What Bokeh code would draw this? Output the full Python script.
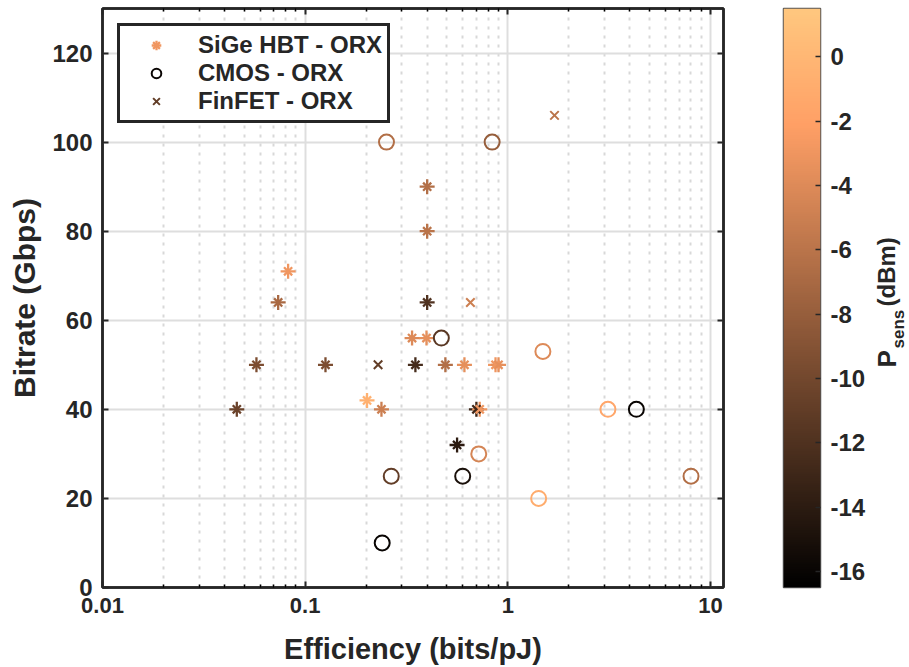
import math
import numpy as np
from bokeh.plotting import figure
from bokeh.models import (ColumnDataSource, LinearColorMapper, FixedTicker, LinearAxis, LogAxis,
                          Legend, LegendItem, CustomJSTickFormatter)
from bokeh.core.properties import value
from bokeh.transform import transform
from bokeh.layouts import row
from bokeh.embed import file_html
from bokeh.resources import INLINE

# ---------------- data ----------------
sige_eff   = [0.0824, 0.046, 0.0575, 0.0736, 0.126, 0.202, 0.238, 0.35, 0.40, 0.337, 0.397,
              0.40, 0.40, 0.492, 0.611, 0.87, 0.90, 0.562, 0.70, 0.727]
sige_rate  = [71, 40, 50, 64, 50, 42, 40, 50, 64, 56, 56, 90, 80, 50, 50, 50, 50, 32, 40, 40]
sige_psens = [-3, -10.5, -9.5, -7, -9.5, -0.5, -5, -12.5, -12, -4, -3.5, -6.5, -6, -6.5,
              -3.5, -3, -3.5, -14, -13, -3]

cmos_eff   = [0.240, 0.252, 0.837, 0.470, 1.49, 3.12, 4.31, 0.719, 0.266, 0.599, 8.02, 1.42]
cmos_rate  = [10, 100, 100, 56, 53, 40, 40, 30, 25, 25, 25, 20]
cmos_psens = [-16, -6.5, -8, -11.5, -4, -1.5, -16, -4.5, -11, -15, -6.5, -1]

finfet_eff   = [0.229, 1.70, 0.654]
finfet_rate  = [50, 106, 64]
finfet_psens = [-11, -6, -5]

x_ticks = [0.01, 0.1, 1, 10]
x_minor = [m * 10.0 ** e for e in (-2, -1, 0) for m in range(2, 10)]
y_ticks = [0, 20, 40, 60, 80, 100, 120]
cbar_ticks = [0, -2, -4, -6, -8, -10, -12, -14, -16]
cbar_low, cbar_high = -16.5, 1.5

series_labels = ["SiGe HBT - ORX", "CMOS - ORX", "FinFET - ORX"]
cbar_title = ["P", "sens", "(dBm)"]

# ---------------- styling ----------------
INK = "#262626"
FONT = "Liberation Sans"

# MATLAB "copper" colormap
_t = np.linspace(0, 1, 256)
palette = ["#%02x%02x%02x" % (int(round(255 * min(1.0, 1.25 * t))),
                               int(round(255 * 0.7812 * t)),
                               int(round(255 * 0.4975 * t))) for t in _t]
mapper = LinearColorMapper(palette=palette, low=cbar_low, high=cbar_high)

p = figure(width=770, height=667, x_axis_type="log", x_range=(0.01, 11.6), y_range=(0, 130),
           output_backend="svg", toolbar_location=None,
           min_border_left=102, min_border_right=47, min_border_top=8, min_border_bottom=80)
p.outline_line_color = INK
p.outline_line_width = 2.5
p.background_fill_color = "white"

bottom_ax = p.xaxis[0]
left_ax = p.yaxis[0]
top_ax = LogAxis()
right_ax = LinearAxis()
p.add_layout(top_ax, "above")
p.add_layout(right_ax, "right")

xt = FixedTicker(ticks=x_ticks, minor_ticks=x_minor)
yt = FixedTicker(ticks=y_ticks)
fmt = CustomJSTickFormatter(code="return tick.toString();")
blank = CustomJSTickFormatter(code="return '';")

for ax in [bottom_ax, top_ax]:
    ax.ticker = xt
for ax in [left_ax, right_ax]:
    ax.ticker = yt
    ax.minor_tick_line_color = None
bottom_ax.formatter = fmt
left_ax.formatter = fmt
top_ax.formatter = blank
right_ax.formatter = blank

for ax in [bottom_ax, top_ax, left_ax, right_ax]:
    ax.axis_line_color = INK
    ax.axis_line_width = 2.5
    ax.major_tick_in = 6
    ax.major_tick_out = 0
    ax.minor_tick_in = 3
    ax.minor_tick_out = 0
    ax.major_tick_line_color = INK
    ax.major_tick_line_width = 2
    ax.minor_tick_line_width = 1.5
    ax.major_label_text_font = FONT
    ax.major_label_text_font_style = "bold"
    ax.major_label_text_font_size = "24px"
    ax.major_label_text_color = INK
    ax.axis_label_text_font = FONT
    ax.axis_label_text_font_style = "bold"
    ax.axis_label_text_color = INK

bottom_ax.major_label_text_font_size = "22px"
bottom_ax.axis_label_text_font_size = "29px"
left_ax.axis_label_text_font_size = "30px"
top_ax.major_label_standoff = 0
right_ax.major_label_standoff = 0

bottom_ax.axis_label = "Efficiency (bits/pJ)"
left_ax.axis_label = "Bitrate (Gbps)"
bottom_ax.major_label_standoff = 10
left_ax.major_label_standoff = 10
bottom_ax.axis_label_standoff = 17
left_ax.axis_label_standoff = 8

p.xgrid.grid_line_color = "#dedede"
p.xgrid.grid_line_width = 2
p.ygrid.grid_line_color = "#dedede"
p.ygrid.grid_line_width = 2
p.xgrid.minor_grid_line_color = "#d8d8d8"
p.xgrid.minor_grid_line_width = 2
p.xgrid.minor_grid_line_dash = "3 6"

src_s = ColumnDataSource(dict(x=sige_eff, y=sige_rate, c=sige_psens))
src_c = ColumnDataSource(dict(x=cmos_eff, y=cmos_rate, c=cmos_psens))
src_f = ColumnDataSource(dict(x=finfet_eff, y=finfet_rate, c=finfet_psens))
col = transform("c", mapper)

r_s1 = p.scatter("x", "y", source=src_s, marker="cross", size=15, line_width=2.3,
                 line_color=col, fill_color=None)
r_s2 = p.scatter("x", "y", source=src_s, marker="x", size=11.5, line_width=2.3,
                 line_color=col, fill_color=None)
r_c = p.scatter("x", "y", source=src_c, marker="circle", size=15, line_width=2,
                line_color=col, fill_color=None)
r_f = p.scatter("x", "y", source=src_f, marker="x", size=12, line_width=2,
                line_color=col, fill_color=None)

legend = Legend(items=[
    LegendItem(label=series_labels[0], renderers=[r_s1, r_s2], index=0),
    LegendItem(label=series_labels[1], renderers=[r_c], index=0),
    LegendItem(label=series_labels[2], renderers=[r_f], index=0),
], location="top_left")
legend.margin = 15
legend.padding = 5
legend.spacing = 0
legend.label_height = 24
legend.glyph_height = 24
legend.glyph_width = 62
legend.label_standoff = 11
legend.border_line_color = INK
legend.border_line_alpha = 1
legend.border_line_width = 3
legend.background_fill_color = "white"
legend.background_fill_alpha = 1
legend.label_text_font = FONT
legend.label_text_font_style = "bold"
legend.label_text_font_size = "24px"
legend.label_text_color = INK
legend.label_text_baseline = "middle"
p.add_layout(legend)

# ---------------- colour bar ----------------
p2 = figure(width=98, height=667, x_range=(0, 1), y_range=(cbar_low, cbar_high),
            output_backend="svg", toolbar_location=None, y_axis_location="right",
            min_border_left=13, min_border_right=46, min_border_top=8, min_border_bottom=80)
p2.image(image=[np.linspace(cbar_low, cbar_high, 256).reshape(-1, 1)], x=0, y=cbar_low,
         dw=1, dh=cbar_high - cbar_low, color_mapper=mapper)
p2.xaxis.visible = False
p2.grid.visible = False
p2.outline_line_color = "#555555"
p2.outline_line_width = 1.5
ya = p2.yaxis[0]
ya.ticker = FixedTicker(ticks=cbar_ticks)
ya.formatter = fmt
ya.axis_line_color = None
ya.major_tick_in = 5
ya.major_tick_out = 0
ya.minor_tick_line_color = None
ya.major_tick_line_color = INK
ya.major_tick_line_width = 1.5
ya.major_label_standoff = 10
ya.major_label_text_font = FONT
ya.major_label_text_font_style = "bold"
ya.major_label_text_font_size = "24px"
ya.major_label_text_color = INK

# ---------------- colour-bar title (rotated, with subscript) ----------------
p3 = figure(width=41, height=667, x_range=(0, 41), y_range=(667 - 80, 8),
            output_backend="svg", toolbar_location=None,
            min_border_left=0, min_border_right=0, min_border_top=8, min_border_bottom=80)
p3.axis.visible = False
p3.grid.visible = False
p3.outline_line_color = None
p3.background_fill_alpha = 0
p3.border_fill_alpha = 0
# x in pixels from the left of this panel, y in window pixels (flipped range)
p3.text(x=[18], y=[367], text=[cbar_title[0]], angle=math.pi / 2, text_align="left",
        text_baseline="middle", text_font=value(FONT), text_font_style="bold",
        text_font_size="26px", text_color=INK)
p3.text(x=[30], y=[348], text=[cbar_title[1]], angle=math.pi / 2, text_align="left",
        text_baseline="middle", text_font=value(FONT), text_font_style="bold",
        text_font_size="17px", text_color=INK)
p3.text(x=[18], y=[306], text=[cbar_title[2]], angle=math.pi / 2, text_align="left",
        text_baseline="middle", text_font=value(FONT), text_font_style="bold",
        text_font_size="24px", text_color=INK)

layout = row(p, p2, p3)
open("out.html", "w").write(file_html(layout, INLINE))
